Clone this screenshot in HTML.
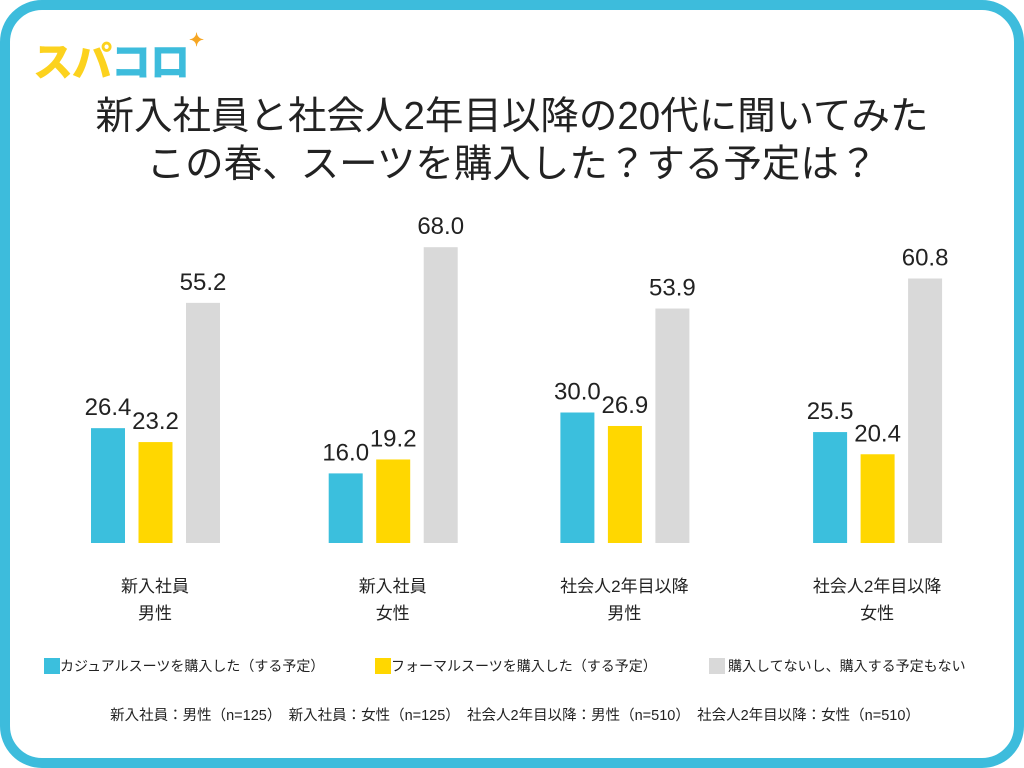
<!DOCTYPE html>
<html><head><meta charset="utf-8"><style>
body{margin:0;width:1024px;height:768px;overflow:hidden;background:#fff;font-family:"Liberation Sans","Noto Sans CJK JP",sans-serif;}
#frame{position:absolute;left:0;top:0;width:1004px;height:748px;border:10px solid #3dbcdc;border-radius:42px;}
.t{position:absolute;white-space:nowrap;}
</style></head><body>
<div id="frame"></div>
<div class="t" style="left:33px;top:30px;font-size:40px;font-weight:900;letter-spacing:-1px;"><span style="color:#fcd21e">スパ</span><span style="color:#3dbcdc">コロ</span><span style="color:#f6a623;font-size:18px;vertical-align:top;">✦</span></div>
<div class="t" style="left:0;width:1024px;top:93px;text-align:center;font-size:38.5px;line-height:48px;color:#222;">新入社員と社会人2年目以降の20代に聞いてみた<br>この春、スーツを購入した？する予定は？</div>
<svg id="chart" width="1024" height="768" style="position:absolute;left:0;top:0" font-family="Liberation Sans, Noto Sans CJK JP, sans-serif"></svg>
<div class="t" style="left:44px;top:656px;font-size:14px;color:#222;">
<span style="position:absolute;left:0;"><span style="display:inline-block;width:16px;height:16px;background:#3bbfdd;vertical-align:-3px;"></span>カジュアルスーツを購入した（する予定）</span>
<span style="position:absolute;left:331px;"><span style="display:inline-block;width:16px;height:16px;background:#ffd700;vertical-align:-3px;"></span>フォーマルスーツを購入した（する予定）</span>
<span style="position:absolute;left:665px;"><span style="display:inline-block;width:16px;height:16px;background:#d9d9d9;vertical-align:-3px;margin-right:3px;"></span>購入してないし、購入する予定もない</span>
</div>
<div class="t" style="left:0;width:1030px;text-align:center;top:704px;font-size:14.5px;color:#222;">新入社員：男性（n=125）　新入社員：女性（n=125）　社会人2年目以降：男性（n=510）　社会人2年目以降：女性（n=510）</div>
<script>
const categories=[["新入社員","男性"],["新入社員","女性"],["社会人2年目以降","男性"],["社会人2年目以降","女性"]];
const casual=[26.4,16.0,30.0,25.5];
const formal=[23.2,19.2,26.9,20.4];
const none=[55.2,68.0,53.9,60.8];
const series=[casual,formal,none];
const colors=["#3bbfdd","#ffd700","#d9d9d9"];
const names=["casual","formal","none"];
const svg=document.getElementById('chart');
const NS="http://www.w3.org/2000/svg";
const base=543,scale=4.35;
function y(v){return base-v*scale;}
function cx(i){return 155+i*240.7-(i===1?3:(i===2?12:0));}
categories.forEach((c,i)=>{
  series.forEach((s,k)=>{
    const x=cx(i)-64+k*47.5;
    const r=document.createElementNS(NS,'rect');
    r.setAttribute('x',x);r.setAttribute('y',y(s[i]));r.setAttribute('width',34);r.setAttribute('height',s[i]*scale);r.setAttribute('fill',colors[k]);
    
    
    svg.appendChild(r);
    const t=document.createElementNS(NS,'text');
    t.setAttribute('x',x+17);t.setAttribute('y',y(s[i])-13);t.setAttribute('text-anchor','middle');t.setAttribute('font-size','24');t.setAttribute('fill','#222');
    t.textContent=s[i].toFixed(1);
    
    
    svg.appendChild(t);
  });
  c.forEach((line,j)=>{
    const t=document.createElementNS(NS,'text');
    t.setAttribute('x',cx(i));t.setAttribute('y',592+j*27);t.setAttribute('text-anchor','middle');t.setAttribute('font-size','17');t.setAttribute('fill','#222');
    t.textContent=line;
    
    
    svg.appendChild(t);
  });
});
</script>
</body></html>
